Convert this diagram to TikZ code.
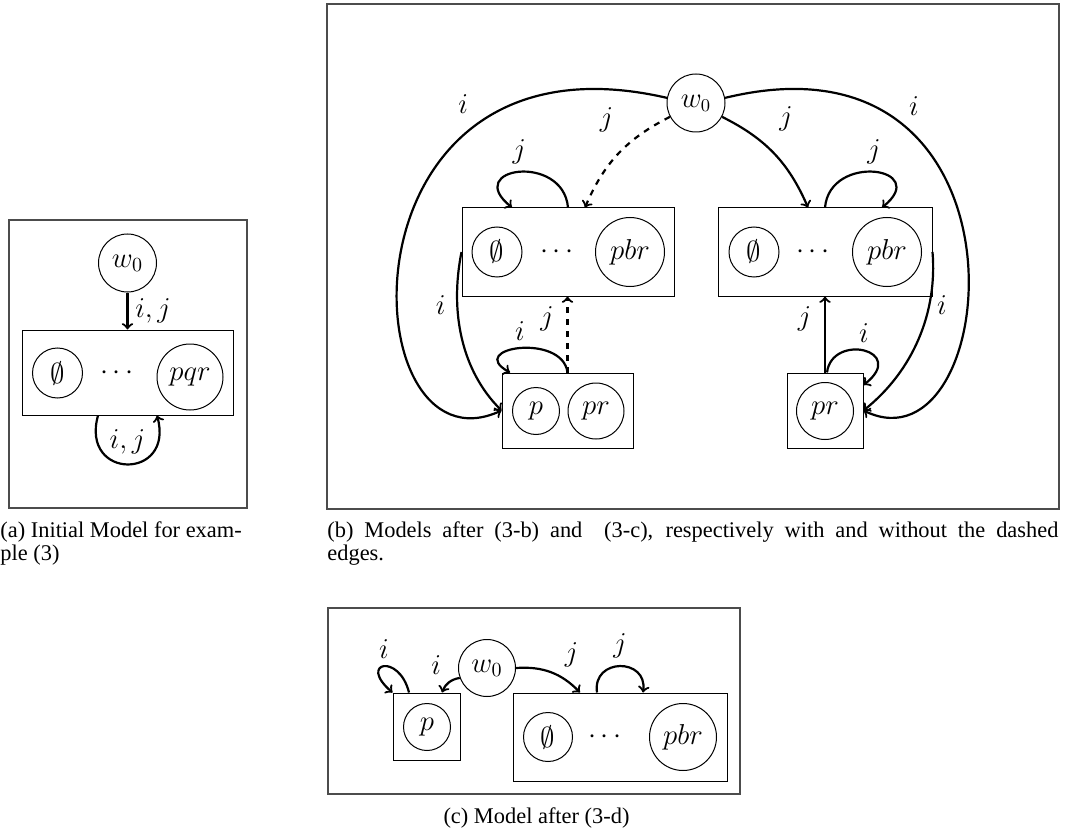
\documentclass[tikz,border=0pt]{standalone}
\usepackage{fontspec}
\newfontfamily\capfont{Liberation Serif}
\begin{document}
\begin{tikzpicture}[x=0.5pt, y=0.5pt,
    world/.style={circle, draw, line width=0.5pt, inner sep=0pt},
    cluster/.style={rectangle, draw, line width=0.5pt, inner sep=0pt},
    arrow/.style={->, line width=1.1pt},
    frame/.style={draw=black!70, line width=0.7pt},
    caption/.style={font=\capfont\fontsize{11.2}{11.6}\selectfont, inner sep=0pt}
]
\useasboundingbox (0,0) rectangle (1081,-834);

% (a) initial model
\draw[frame] (9,-220) rectangle (247,-508);
\begin{scope}[font=\fontsize{14.5}{16}\selectfont]
\node[world, minimum size=29pt] (aw) at (127.5,-263) {$w_0$};
\node[cluster, minimum width=105.5pt, minimum height=42.5pt] (abox) at (127.5,-372.5) {};
\node[world, minimum size=25pt] (aempty) at (57.5,-373) {$\emptyset$};
\node (adots) at (117,-373) {$\cdots$};
\node[world, minimum size=33pt] (apqr) at (190,-377) {$pqr$};

\draw[arrow] (aw) -- node[right] {$i,j$} (abox);
\draw[arrow] ([xshift=-14.75pt]abox.south) .. controls +(-18,-65) and +(18,-65) .. node[above=1pt] {$i,j$} ([xshift=14.75pt]abox.south);
\end{scope}

% (b) models after (3-b) and (3-c)
\draw[frame] (327,-4) rectangle (1059,-509);
\begin{scope}[font=\fontsize{13.5}{16}\selectfont]
\node[world, minimum size=29pt] (bw) at (696,-103) {$w_0$};

\node[cluster, minimum width=106pt, minimum height=44pt] (bL) at (568,-252) {};
\node[world, minimum size=25pt] (bLempty) at (497,-252) {$\emptyset$};
\node (bLdots) at (557,-252) {$\cdots$};
\node[world, minimum size=34.5pt] (bLpbr) at (630,-252) {$pbr$};

\node[cluster, minimum width=107pt, minimum height=44pt] (bR) at (825,-252) {};
\node[world, minimum size=25pt] (bRempty) at (754,-252) {$\emptyset$};
\node (bRdots) at (813,-252) {$\cdots$};
\node[world, minimum size=34.5pt] (bRpbr) at (887,-252) {$pbr$};

\node[cluster, minimum width=65.5pt, minimum height=37.5pt] (bP) at (567.5,-410.5) {};
\node[world, minimum size=23.5pt] (bPp) at (536,-411) {$p$};
\node[world, minimum size=28pt] (bPpr) at (596,-411) {$pr$};

\node[cluster, minimum width=38pt, minimum height=37.5pt] (bQ) at (825,-410.5) {};
\node[world, minimum size=28.5pt] (bQpr) at (825,-411) {$pr$};

% left half
\draw[arrow] (bw.170) .. controls (330,-20) and (350,-480) .. node[pos=0.25, above left=1pt] {$i$} (bP.west);
\draw[arrow, dashed] (bw.208) to[bend right=20] node[pos=0.4, above left=3pt] {$j$} ([xshift=8.5pt]bL.north);
\draw[arrow] (bL.north) .. controls +(-5,55) and +(-50,40) .. node[above] {$j$} ([xshift=-28pt]bL.north);
\draw[arrow] (bL.west) .. controls +(-12,-60) and +(-40,40) .. node[pos=0.3, left=2pt] {$i$} (bP.west);
\draw[arrow] (bP.north) .. controls +(-5,40) and +(-45,25) .. node[above] {$i$} ([xshift=-28.75pt]bP.north);
\draw[arrow, dashed] (bP.north) -- node[pos=0.7, left=3pt] {$j$} (bP.north |- bL.south);

% right half
\draw[arrow] (bw.332) to[bend left=20] node[pos=0.4, above right=3pt] {$j$} ([xshift=-8.5pt]bR.north);
\draw[arrow] (bR.north) .. controls +(5,55) and +(50,40) .. node[above] {$j$} ([xshift=28.5pt]bR.north);
\draw[arrow] (bw.10) .. controls (1045,-20) and (1003,-478) .. node[pos=0.25, above right] {$i$} (bQ.east);
\draw[arrow] (bR.east) .. controls +(5,-60) and +(50,40) .. node[pos=0.3, right] {$i$} (bQ.east);
\draw[arrow] ([xshift=1pt]bQ.north) .. controls +(5,40) and +(45,35) .. node[above] {$i$} ([yshift=12.75pt]bQ.east);
\draw[arrow] (bQ.north) -- node[pos=0.7, left=3pt] {$j$} (bQ.north |- bR.south);
\end{scope}

% (c) model after (3-d)
\draw[frame] (328,-608) rectangle (740,-794);
\begin{scope}[font=\fontsize{14}{16}\selectfont]
\node[world, minimum size=28.5pt] (cw) at (487,-668) {$w_0$};

\node[cluster, minimum width=33.5pt, minimum height=33.5pt] (cP) at (426.5,-726.5) {};
\node[world, minimum size=23.5pt] (cPp) at (427,-727) {$p$};

\node[cluster, minimum width=107pt, minimum height=44pt] (cR) at (620,-737) {};
\node[world, minimum size=24.5pt] (cRempty) at (548,-737) {$\emptyset$};
\node (cRdots) at (605,-737) {$\cdots$};
\node[world, minimum size=33.5pt] (cRpbr) at (683,-737) {$pbr$};

\draw[arrow] (cw.200) to[bend right=30] node[above left] {$i$} ([xshift=7.75pt]cP.north);
\draw[arrow] ([xshift=-8.75pt]cP.north) .. controls +(-10,40) and +(-35,30) .. node[above] {$i$} (cP.north west);
\draw[arrow] (cw.east) to[bend left=25] node[pos=0.6, above right] {$j$} ([xshift=-20pt]cR.north);
\draw[arrow] ([xshift=-11.5pt]cR.north) .. controls +(-5,35) and +(5,35) .. node[above] {$j$} ([xshift=11.5pt]cR.north);
\end{scope}

% captions
\node[caption, anchor=north west, align=left] (capa) at (0,-521) {(a) Initial Model for exam-\\ple (3)};
\node[caption, anchor=north west, text width=365.5pt, align=justify] (capb) at (327,-521) {(b) Models after (3-b) and~ (3-c), respectively with and without the dashed\linebreak edges.};
\node[caption, anchor=base] (capc) at (536.5,-823) {(c) Model after (3-d)};
\end{tikzpicture}
\end{document}
